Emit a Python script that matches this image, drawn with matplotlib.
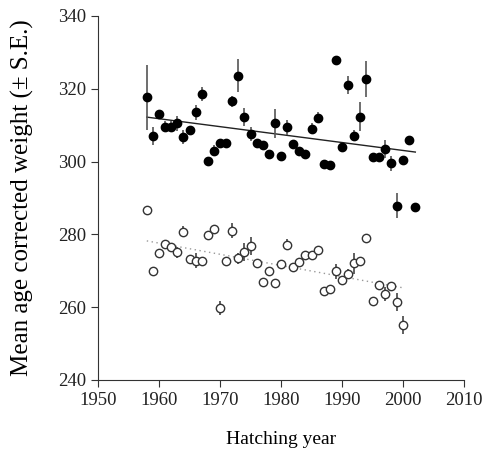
import matplotlib
matplotlib.use("Agg")
import matplotlib.pyplot as plt

plt.rcParams['font.family'] = ['Liberation Serif', 'DejaVu Serif']

# black (filled) series
years_b = list(range(1958, 2003))
vals_b = [317.6, 307.0, 313.0, 309.6, 309.6, 310.5, 306.7, 308.7, 313.5, 318.6,
          300.2, 303.0, 305.2, 305.2, 316.6, 323.6, 312.2, 307.6, 305.2, 304.6,
          302.1, 310.5, 301.5, 309.4, 304.9, 303.0, 302.1, 309.0, 312.0, 299.3,
          299.0, 327.8, 304.0, 321.1, 307.1, 312.3, 322.7, 301.3, 301.2, 303.4,
          299.5, 287.9, 300.3, 306.0, 287.4]
err_b = [9.0, 2.5, 1.0, 1.5, 1.5, 2.0, 2.0, 1.0, 2.0, 2.0,
         1.0, 1.5, 1.0, 1.0, 1.5, 4.5, 2.5, 2.0, 1.0, 1.0,
         1.0, 4.0, 1.0, 2.0, 1.0, 1.0, 1.0, 1.5, 1.5, 1.0,
         1.0, 1.0, 1.0, 2.5, 1.5, 4.0, 5.0, 1.0, 1.0, 2.5,
         2.0, 3.5, 1.0, 1.0, 1.0]

# white (open) series
years_w = list(range(1958, 2001))
vals_w = [286.6, 270.0, 275.0, 277.4, 276.6, 275.1, 280.7, 273.2, 272.8, 272.8,
          279.7, 281.5, 259.8, 272.7, 281.0, 273.4, 275.2, 276.8, 272.0, 267.0,
          270.0, 266.7, 271.9, 277.2, 271.1, 272.5, 274.2, 274.3, 275.6, 264.5,
          265.0, 269.8, 267.4, 269.1, 272.0, 272.6, 279.0, 261.8, 266.1, 263.6,
          265.7, 261.5, 255.0]
err_w = [1.2, 1.0, 1.0, 1.0, 1.0, 1.5, 1.5, 1.0, 2.0, 1.0,
         1.0, 1.0, 2.0, 1.0, 2.0, 1.5, 2.5, 2.5, 1.0, 1.0,
         1.0, 1.0, 1.0, 1.5, 1.0, 1.0, 1.0, 1.0, 1.0, 1.0,
         1.0, 2.0, 1.0, 1.5, 3.0, 1.0, 1.0, 1.0, 1.0, 2.0,
         1.0, 2.5, 2.5]

# trend lines (end points)
trend_b_x = [1958, 2002]
trend_b_y = [312.2, 302.6]
trend_w_x = [1958, 2000]
trend_w_y = [278.2, 265.3]

fig = plt.figure(figsize=(4.85, 4.55), dpi=100)
ax = fig.add_axes([0.202, 0.165, 0.755, 0.8])

ax.plot(trend_b_x, trend_b_y, color='#222222', lw=1.0, zorder=1)
ax.plot(trend_w_x, trend_w_y, color='#999999', lw=1.0, ls=(0, (1, 2.5)), zorder=1)

ax.errorbar(years_b, vals_b, yerr=err_b, fmt='o', color='black', ecolor='#555555',
            elinewidth=1.2, capsize=0, markersize=6, zorder=3)
ax.errorbar(years_w, vals_w, yerr=err_w, fmt='o', mfc='white', mec='#333333', mew=1.0,
            ecolor='#444444', elinewidth=1.2, capsize=0, markersize=6, zorder=3)

ax.set_xlim(1950, 2010)
ax.set_ylim(240, 340)
ax.set_xticks(range(1950, 2011, 10))
ax.set_yticks(range(240, 341, 20))
for s in ['top', 'right']:
    ax.spines[s].set_visible(False)
for s in ['left', 'bottom']:
    ax.spines[s].set_linewidth(0.8)
    ax.spines[s].set_color('#333333')
ax.tick_params(direction='out', length=5, width=0.8, labelsize=13.5, colors='#333333',
               labelcolor='#222222')
ax.set_xlabel('Hatching year', fontsize=14)
ax.set_ylabel('Mean age corrected weight (\u00b1 S.E.)', fontsize=18)
ax.xaxis.set_label_coords(0.5, -0.14)
ax.yaxis.set_label_coords(-0.175, 0.5)

fig.savefig('out.png', dpi=100)
